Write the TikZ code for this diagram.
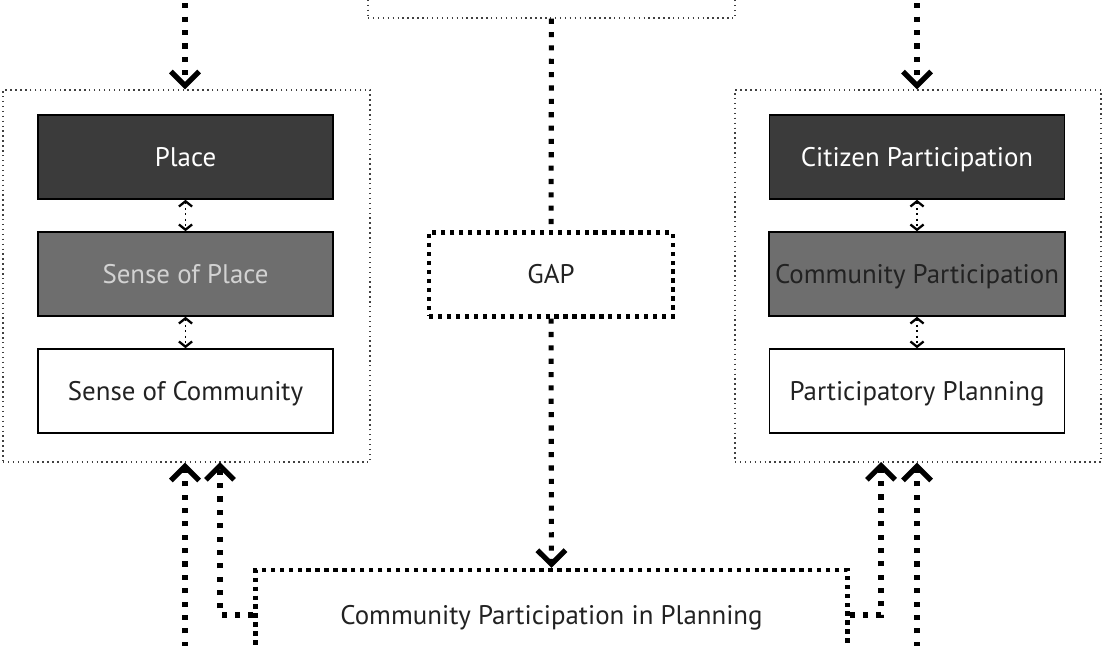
\documentclass[tikz,border=0pt]{standalone}
\usepackage{fontspec}
\setmainfont{PT Sans}
\usetikzlibrary{arrows.meta}
\definecolor{darkbox}{HTML}{3B3B3B}
\definecolor{midbox}{HTML}{6E6E6E}
\definecolor{midtext}{HTML}{D2D2D2}
\definecolor{ink}{HTML}{222222}
\tikzset{
  stage/.style={draw=black, line width=0.9pt, minimum width=5.9cm, minimum height=1.68cm,
    font=\fontsize{15.3}{17}\selectfont, text=ink, text height=2.1ex, text depth=-0.2ex},
  groupbox/.style={draw=black!75, line width=0.8pt, dotted},
  gapbox/.style={draw=black, line width=2.4pt, dash pattern=on 2.4pt off 2.7pt,
    font=\fontsize{15.3}{17}\selectfont, text=ink, text height=2.1ex, text depth=-0.2ex},
  bigflow/.style={line width=2.9pt, dash pattern=on 2.9pt off 4.7pt,
    -{Straight Barb[length=8pt, width=16pt, line width=3pt]}},
  bigline/.style={line width=2.9pt, dash pattern=on 2.9pt off 4.7pt},
  smallflow/.style={line width=1.1pt, dotted,
    {Straight Barb[length=3pt, width=7.5pt, line width=1.3pt]}-{Straight Barb[length=3pt, width=7.5pt, line width=1.3pt]}}
}
\begin{document}
\begin{tikzpicture}[x=0.02cm, y=-0.02cm]
  \clip (0,0) rectangle (1104,645);
  % frames
  \node[groupbox, minimum width=7.34cm, minimum height=7.44cm] (leftgrp) at (186.5,276) {};
  \node[groupbox, minimum width=7.32cm, minimum height=7.44cm] (rightgrp) at (918,276) {};
  \node[groupbox, minimum width=7.34cm, minimum height=1.6cm] (source) at (551.5,-22) {};
  % left column
  \node[stage, fill=darkbox, text=white] (place) at (185.5,157) {Place};
  \node[stage, fill=midbox, text=midtext] (sop) at (185.5,274) {Sense of Place};
  \node[stage, fill=white] (soc) at (185.5,391) {Sense of Community};
  % right column
  \node[stage, fill=darkbox, text=white] (citizen) at (917,157) {Citizen Participation};
  \node[stage, fill=midbox, text=ink] (community) at (917,274) {Community Participation};
  \node[stage, fill=white] (participatory) at (917,391) {Participatory Planning};
  % middle
  \node[gapbox, minimum width=4.88cm, minimum height=1.68cm] (gap) at (551,274.5) {GAP};
  \node[gapbox, minimum width=11.84cm, minimum height=1.8cm] (plan) at (551.5,615) {Community Participation in Planning};
  \coordinate (topleft) at (185,-10);
  \coordinate (topright) at (917,-10);
  \coordinate (botleft) at (185,660);
  \coordinate (botright) at (917,660);
  \coordinate (inleft) at (220,462);
  \coordinate (inright) at (881,462);
  \begin{scope}
    \draw[smallflow] (place) to (sop);
    \draw[smallflow] (sop) to (soc);
    \draw[smallflow] (citizen) to (community);
    \draw[smallflow] (community) to (participatory);
    \draw[bigflow] (topleft) to (leftgrp.north -| topleft);
    \draw[bigflow] (topright) to (rightgrp.north -| topright);
    \draw[bigline] (source) to (gap);
    \draw[bigflow] (gap) to (plan);
    \draw[bigflow] (botleft) to (leftgrp.south -| botleft);
    \draw[bigflow] (plan.west) -| (inleft);
    \draw[bigflow] (botright) to (rightgrp.south -| botright);
    \draw[bigflow] (plan.east) -| (inright);
  \end{scope}
\end{tikzpicture}
\end{document}
